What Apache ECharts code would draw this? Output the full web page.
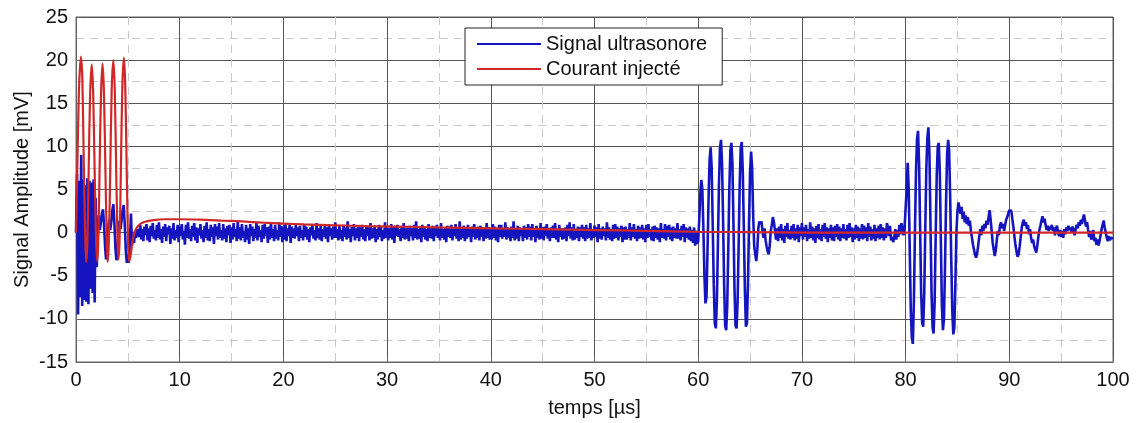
<!DOCTYPE html>
<html>
<head>
<meta charset="utf-8">
<script src="https://cdn.jsdelivr.net/npm/echarts@6/dist/echarts.min.js"></script>
<style>
html,body{margin:0;padding:0;background:#fff;}
#chart{width:1136px;height:423px;}
</style>
</head>
<body>
<div id="chart"></div>
<script>
// ---- Data ----
const seriesNames = ['Signal ultrasonore', 'Courant injecté'];
const xTicks = [0, 10, 20, 30, 40, 50, 60, 70, 80, 90, 100];
const yTicks = [-15, -10, -5, 0, 5, 10, 15, 20, 25];

// Blue signal: sampled every 0.1 µs, one row per microsecond (row k = k µs .. k+0.9 µs)
const blueStep = 0.1;
const blueRows = [
/*0*/ [0, 6.8, -9.5, 6.0, -7.5, 9.0, -8.5, 6.2, -7.8, 5.5],
/*1*/ [-8.0, 6.3, -8.3, 6.0, -6.5, 5.8, -7.0, 6.2, -8.1, 4.0],
/*2*/ [-4.0, -0.5, 2.0, 0.3, 1.2, 2.2, 2.7, 1.0, -1.5, -3.1],
/*3*/ [-2.0, 0.5, 1.5, 0.3, 1.2, 2.5, 3.3, 1.2, -1.8, -3.2],
/*4*/ [-2.2, 0.2, 1.4, 0.4, 1.5, 2.6, 3.2, 1.0, -2.0, -3.5],
/*5*/ [-2.5, -3.5, -1.0, 2.2, -1.5, -0.5, -1.2, 0.2, -0.6, 0.4],
/*6*/ [0.6, -0.5, 0.9, -0.8, 0.4, -1.0, 0.7, -0.3, 1.0, -0.9],
/*7*/ [0.5, -1.1, 0.8, -0.4, 1.1, -0.7, 0.3, -0.9, 0.9, -0.6],
/*8*/ [1.2, -0.8, 0.4, -1.2, 0.7, -0.5, 1.0, -1.0, 0.6, -0.2],
/*9*/ [0.8, -1.3, 0.5, -0.7, 1.1, -0.9, 0.3, -0.6, 0.9, -1.1],
/*10*/ [0.7, -0.4, 1.0, -0.8, 0.2, -1.4, 0.9, -0.6, 1.2, -0.7],
/*11*/ [0.4, -1.0, 0.8, -0.5, 1.1, -0.9, 0.6, -1.2, 0.5, -0.3],
/*12*/ [1.0, -0.7, 0.3, -1.1, 0.8, -0.6, 1.2, -0.9, 0.4, -1.0],
/*13*/ [0.9, -0.5, 0.6, -1.3, 1.0, -0.4, 0.7, -0.8, 1.1, -0.6],
/*14*/ [0.3, -0.9, 1.0, -0.7, 0.5, -1.1, 0.8, -0.3, 0.9, -1.2],
/*15*/ [0.6, -0.8, 1.1, -0.5, 0.4, -1.0, 1.3, -0.7, 0.6, -0.9],
/*16*/ [1.0, -0.6, 0.2, -1.1, 0.9, -0.8, 0.5, -1.3, 1.0, -0.4],
/*17*/ [0.7, -1.0, 0.4, -0.6, 1.2, -0.9, 0.8, -0.5, 0.3, -1.1],
/*18*/ [0.9, -0.7, 1.0, -0.4, 0.6, -1.2, 0.7, -0.8, 1.1, -0.6],
/*19*/ [0.4, -1.0, 0.9, -0.7, 0.3, -0.9, 1.2, -0.5, 0.8, -1.1],
/*20*/ [0.6, -0.8, 1.0, -1.0, 0.5, -0.4, 0.9, -1.2, 0.7, -0.6],
/*21*/ [0.5, -0.7, 0.9, -0.4, 0.6, -1.0, 0.8, -0.6, 0.3, -0.9],
/*22*/ [1.0, -0.5, 0.7, -0.8, 0.4, -1.1, 0.6, -0.3, 0.9, -0.7],
/*23*/ [0.3, -0.9, 1.1, -0.6, 0.5, -0.8, 0.8, -1.0, 0.4, -0.5],
/*24*/ [0.9, -0.7, 0.6, -1.1, 1.0, -0.4, 0.5, -0.8, 0.7, -0.6],
/*25*/ [1.2, -0.6, 0.4, -0.9, 0.8, -0.7, 0.3, -1.0, 0.9, -0.5],
/*26*/ [0.6, -0.8, 1.3, -0.6, 0.4, -1.1, 0.7, -0.4, 1.0, -0.9],
/*27*/ [0.5, -0.6, 0.8, -1.0, 0.6, -0.5, 0.9, -0.8, 0.4, -1.0],
/*28*/ [0.8, -0.4, 0.6, -0.9, 1.1, -0.7, 0.5, -0.6, 0.8, -1.1],
/*29*/ [0.4, -0.8, 0.9, -0.5, 0.7, -1.0, 0.3, -0.7, 1.2, -0.6],
/*30*/ [0.7, -0.9, 0.5, -0.6, 1.0, -0.8, 0.6, -1.2, 0.8, -0.4],
/*31*/ [0.9, -0.5, 0.4, -1.0, 0.7, -0.6, 1.1, -0.8, 0.5, -0.7],
/*32*/ [0.6, -1.0, 0.8, -0.4, 0.5, -0.9, 0.9, -0.6, 1.3, -0.8],
/*33*/ [0.4, -0.7, 0.7, -1.1, 0.9, -0.5, 0.6, -0.8, 0.4, -1.0],
/*34*/ [1.0, -0.6, 0.5, -0.7, 0.8, -1.0, 0.7, -0.4, 0.9, -0.6],
/*35*/ [0.5, -0.9, 1.1, -0.6, 0.4, -0.8, 0.6, -1.1, 0.8, -0.5],
/*36*/ [0.7, -0.6, 0.9, -0.9, 0.5, -0.4, 1.0, -0.7, 0.6, -1.0],
/*37*/ [1.3, -0.8, 0.4, -0.6, 0.8, -1.0, 0.5, -0.7, 0.9, -0.5],
/*38*/ [0.6, -1.1, 0.7, -0.5, 1.0, -0.8, 0.4, -0.6, 0.7, -0.9],
/*39*/ [0.8, -0.5, 0.6, -1.0, 0.5, -0.7, 1.1, -0.6, 0.6, -0.8],
/*40*/ [0.5, -0.8, 1.0, -0.6, 0.7, -0.9, 0.4, -1.1, 0.9, -0.5],
/*41*/ [0.9, -0.7, 0.5, -0.5, 1.2, -0.8, 0.6, -0.6, 0.4, -1.0],
/*42*/ [0.7, -0.6, 1.3, -0.9, 0.5, -0.7, 0.8, -1.0, 0.6, -0.4],
/*43*/ [0.4, -1.0, 0.8, -0.6, 0.6, -0.8, 1.0, -0.5, 0.7, -0.9],
/*44*/ [1.0, -0.5, 0.5, -1.1, 0.8, -0.6, 0.4, -0.8, 1.1, -0.7],
/*45*/ [0.6, -0.9, 0.7, -0.4, 1.0, -0.7, 0.5, -1.0, 0.6, -0.6],
/*46*/ [0.8, -0.6, 1.1, -0.8, 0.4, -1.1, 0.9, -0.5, 0.5, -0.8],
/*47*/ [0.5, -0.7, 0.6, -1.0, 0.9, -0.4, 1.2, -0.7, 0.6, -0.9],
/*48*/ [1.0, -0.8, 0.4, -0.6, 0.7, -1.0, 0.6, -0.5, 0.9, -0.7],
/*49*/ [0.6, -1.0, 0.9, -0.7, 0.5, -0.6, 1.1, -0.9, 0.4, -0.6],
/*50*/ [0.8, -0.5, 0.6, -1.1, 1.0, -0.7, 0.5, -0.8, 0.7, -0.4],
/*51*/ [0.5, -0.9, 1.2, -0.6, 0.6, -0.8, 0.4, -1.0, 0.9, -0.7],
/*52*/ [1.0, -0.6, 0.7, -0.9, 0.5, -0.5, 0.8, -1.1, 0.6, -0.8],
/*53*/ [0.7, -0.8, 0.4, -0.6, 1.1, -0.9, 0.6, -0.5, 1.0, -0.7],
/*54*/ [0.4, -1.0, 0.8, -0.7, 0.6, -0.6, 0.9, -0.8, 0.5, -1.1],
/*55*/ [0.9, -0.6, 1.0, -0.5, 0.4, -0.9, 0.7, -1.0, 0.8, -0.6],
/*56*/ [0.6, -0.8, 0.5, -1.1, 1.1, -0.6, 0.4, -0.7, 1.0, -0.9],
/*57*/ [0.8, -0.5, 0.9, -0.8, 0.6, -1.0, 0.7, -0.6, 0.5, -0.7],
/*58*/ [1.1, -0.7, 0.4, -0.9, 0.8, -0.5, 1.0, -1.1, 0.6, -0.6],
/*59*/ [0.5, -0.8, 0.7, -1.0, 0.3, -1.2, 0.6, -1.5, 0.2, -1.3],
/*60*/ [-1.0, 1.5, 4.5, 6.1, 5.0, 0.5, -5.0, -8.2, -7.5, -2.0],
/*61*/ [4.0, 8.5, 9.9, 7.5, 1.0, -6.0, -10.5, -11.1, -8.0, -1.5],
/*62*/ [5.5, 9.8, 10.75, 8.0, 1.5, -6.0, -10.8, -11.3, -8.5, -2.0],
/*63*/ [5.0, 9.5, 10.4, 8.0, 1.0, -6.5, -10.8, -11.1, -8.0, -1.5],
/*64*/ [5.5, 9.8, 10.5, 7.0, 0.5, -6.5, -10.9, -10.5, -6.0, 1.0],
/*65*/ [7.0, 9.4, 7.5, 2.0, -1.5, -2.5, -3.3, -2.0, 0.5, 1.3],
/*66*/ [1.0, 1.3, 0.2, -0.6, 0.5, -0.9, -1.6, -2.2, -2.5, -1.5],
/*67*/ [0.2, 0.9, 1.8, 1.2, 0.3, -0.8, 0.5, -1.0, 0.7, -0.6],
/*68*/ [1.0, -0.9, 0.4, -1.2, 0.8, -0.5, 1.1, -0.7, 0.3, -0.8],
/*69*/ [0.8, -0.6, 1.0, -0.9, 0.5, -0.7, 0.9, -1.1, 0.6, -0.4],
/*70*/ [1.1, -0.8, 0.6, -0.5, 0.9, -1.0, 0.4, -0.7, 1.2, -0.6],
/*71*/ [0.7, -0.9, 0.5, -1.2, 0.8, -0.6, 1.0, -0.8, 0.4, -1.0],
/*72*/ [0.9, -0.5, 1.1, -0.7, 0.6, -1.1, 0.5, -0.6, 0.9, -0.9],
/*73*/ [0.6, -1.0, 0.8, -0.5, 1.0, -0.8, 0.7, -1.0, 0.5, -0.6],
/*74*/ [1.0, -0.7, 0.4, -0.9, 0.9, -0.6, 1.1, -0.5, 0.6, -1.1],
/*75*/ [0.5, -0.8, 0.9, -0.6, 0.7, -1.0, 0.5, -0.7, 1.0, -0.8],
/*76*/ [0.8, -0.6, 0.6, -1.0, 1.1, -0.5, 0.7, -0.9, 0.4, -0.7],
/*77*/ [0.9, -1.0, 0.5, -0.6, 0.8, -0.8, 1.0, -0.6, 0.6, -0.9],
/*78*/ [0.5, -0.6, 1.1, 0.6, -0.4, 0.8, -0.9, -0.5, -1.1, -0.6],
/*79*/ [0.4, -0.8, 0.3, -0.5, 0.9, -0.2, 1.1, 0.5, -0.3, 0.6],
/*80*/ [0.8, 5.0, 8.1, 5.0, -2.0, -9.0, -12.2, -12.9, -8.0, 0.0],
/*81*/ [7.0, 10.8, 11.8, 8.0, 0.5, -7.0, -10.5, -10.9, -7.0, 0.5],
/*82*/ [7.5, 11.0, 12.2, 9.0, 1.0, -7.0, -11.0, -11.7, -8.0, -0.5],
/*83*/ [6.5, 10.0, 10.4, 7.0, -1.0, -8.5, -11.3, -10.0, -4.0, 3.5],
/*84*/ [9.0, 10.75, 9.5, 4.0, -3.0, -9.0, -11.8, -11.0, -6.0, 0.0],
/*85*/ [2.5, 3.5, 2.8, 2.2, 3.0, 1.6, 2.4, 1.2, 2.0, 1.0],
/*86*/ [1.8, 0.8, 1.4, 0.2, -0.6, -1.4, -2.0, -2.6, -2.9, -2.4],
/*87*/ [-1.5, -0.5, 0.4, -0.3, 0.8, 0.2, 1.0, 0.5, 1.4, 0.9],
/*88*/ [1.8, 2.6, 1.5, 0.2, -1.2, -2.0, -2.7, -2.0, -0.8, 0.2],
/*89*/ [-0.3, 0.8, 1.2, 0.5, 1.0, 0.2, 0.9, 1.5, 1.8, 2.2],
/*90*/ [2.6, 2.8, 2.5, 1.5, 0.6, -0.5, -1.5, -2.2, -2.8, -2.5],
/*91*/ [-1.6, -0.5, 0.6, 1.2, 1.5, 0.8, 1.2, 0.4, 0.9, -0.2],
/*92*/ [0.4, -0.6, -1.2, -0.8, -1.6, -2.0, -2.3, -1.5, -0.5, 0.3],
/*93*/ [0.8, 1.4, 1.9, 1.2, 1.6, 0.9, 0.3, 0.8, 0.2, 0.7],
/*94*/ [0.4, 0.9, 0.2, 0.6, -0.3, 0.5, 0.8, 0.1, -0.4, 0.3],
/*95*/ [-0.5, 0.2, -0.6, 0.4, -0.2, 0.6, 0.2, 0.8, 0.3, 0.6],
/*96*/ [0.1, 0.7, 0.2, -0.3, 0.4, 0.9, 0.5, 1.2, 0.8, 1.5],
/*97*/ [1.0, 1.6, 2.1, 1.4, 0.7, 1.2, 0.3, -0.5, 0.2, -0.8],
/*98*/ [-0.4, 0.3, -1.0, -0.6, -1.4, -0.8, -1.5, -1.0, -0.3, 0.4],
/*99*/ [0.9, 1.4, 0.6, 0.0, -0.6, -1.0, -0.4, -0.9, -0.6, -0.8]
];
const blueLast = -0.7; // value at 100 µs

// Red (injected current): times [µs] and values [mV]
const redTimes = [0, 0.15, 0.3, 0.48, 0.62, 0.75, 0.88, 0.98, 1.1, 1.22, 1.36, 1.52, 1.66, 1.8, 1.93, 2.03,
  2.15, 2.27, 2.41, 2.56, 2.7, 2.84, 2.96, 3.05, 3.17, 3.3, 3.44, 3.6, 3.74, 3.88, 4.0, 4.08,
  4.2, 4.33, 4.47, 4.62, 4.75, 4.88, 5.0, 5.1, 5.25, 5.45, 5.7, 6.0, 6.5, 7.5, 8.5, 10,
  12, 14, 16, 18, 20, 22, 25, 28, 31, 35, 40, 45, 50, 55, 60, 65, 70, 100];
const redValues = [0, 9, 17, 20.4, 17.5, 8, 0, -3.4, -1, 7, 16, 19.5, 16, 7, -0.5, -3.3,
  -1, 7, 16, 19.6, 16, 7, -0.5, -3.4, -1, 7, 16.5, 20, 16.5, 7, -0.5, -3.1,
  -1, 7.5, 17, 20.3, 17, 8, 0, -3.3, -2.8, -1, 0.2, 0.8, 1.2, 1.45, 1.55, 1.55,
  1.5, 1.4, 1.3, 1.15, 1.05, 0.95, 0.85, 0.75, 0.7, 0.6, 0.5, 0.4, 0.3, 0.2, 0.1, 0.05, 0.0, 0.0];

// ---- Build series data from arrays ----
const blueData = [];
blueRows.forEach((row, k) => {
  row.forEach((v, j) => blueData.push([+(k + j * blueStep).toFixed(2), v]));
});
blueData.push([100, blueLast]);
const redData = redTimes.map((t, i) => [t, redValues[i]]);

const FONT = '"Liberation Sans", Arial, sans-serif';
const chart = echarts.init(document.getElementById('chart'), null, {renderer: 'canvas'});
chart.setOption({
  animation: false,
  backgroundColor: '#ffffff',
  textStyle: {fontFamily: FONT},
  grid: {left: 76, right: 23, top: 17, bottom: 57, show: true, borderColor: '#666', borderWidth: 1, backgroundColor: 'transparent'},
  legend: {
    orient: 'vertical', left: 465, top: 28,
    padding: [6, 15, 6, 12], itemGap: 5, itemWidth: 64, itemHeight: 14,
    backgroundColor: '#fff', borderColor: '#222', borderWidth: 1,
    textStyle: {fontFamily: FONT, fontSize: 20, color: '#111', lineHeight: 20},
    data: seriesNames.map(n => ({name: n, icon: 'path://M0,0 L64,0 L64,2 L0,2 Z'}))
  },
  xAxis: {
    type: 'value', min: xTicks[0], max: xTicks[xTicks.length - 1], interval: 10,
    name: 'temps [µs]', nameLocation: 'middle', nameGap: 36,
    nameTextStyle: {fontFamily: FONT, fontSize: 20, color: '#111'},
    axisLine: {show: true, onZero: false, lineStyle: {color: '#666'}},
    axisTick: {show: true, inside: true, length: 5, lineStyle: {color: '#666'}},
    axisLabel: {fontFamily: FONT, fontSize: 20, color: '#111', margin: 8},
    splitLine: {show: true, lineStyle: {color: '#555', width: 1}},
    minorTick: {show: false, splitNumber: 2},
    minorSplitLine: {show: true, lineStyle: {color: '#c8c8c8', type: [8, 6], width: 1}}
  },
  yAxis: {
    type: 'value', min: yTicks[0], max: yTicks[yTicks.length - 1], interval: 5,
    name: 'Signal Amplitude [mV]', nameLocation: 'middle', nameGap: 44, nameRotate: 90,
    nameMoveOverlap: false,
    nameTextStyle: {fontFamily: FONT, fontSize: 20, color: '#111'},
    axisLine: {show: true, onZero: false, lineStyle: {color: '#666'}},
    axisTick: {show: true, inside: true, length: 5, lineStyle: {color: '#666'}},
    axisLabel: {fontFamily: FONT, fontSize: 20, color: '#111', margin: 8},
    splitLine: {show: true, lineStyle: {color: '#555', width: 1}},
    minorTick: {show: false, splitNumber: 2},
    minorSplitLine: {show: true, lineStyle: {color: '#c8c8c8', type: [8, 6], width: 1}}
  },
  series: [
    {name: seriesNames[0], type: 'line', data: blueData, showSymbol: false, symbol: 'none',
     color: '#1515c0', lineStyle: {width: 2.6, color: '#1515c0'}, z: 2},
    {name: seriesNames[1], type: 'line', data: redData, showSymbol: false, symbol: 'none', smooth: 0.3,
     color: '#d02828', lineStyle: {width: 2.2, color: '#d02828'}, z: 3}
  ]
});
</script>
</body>
</html>
